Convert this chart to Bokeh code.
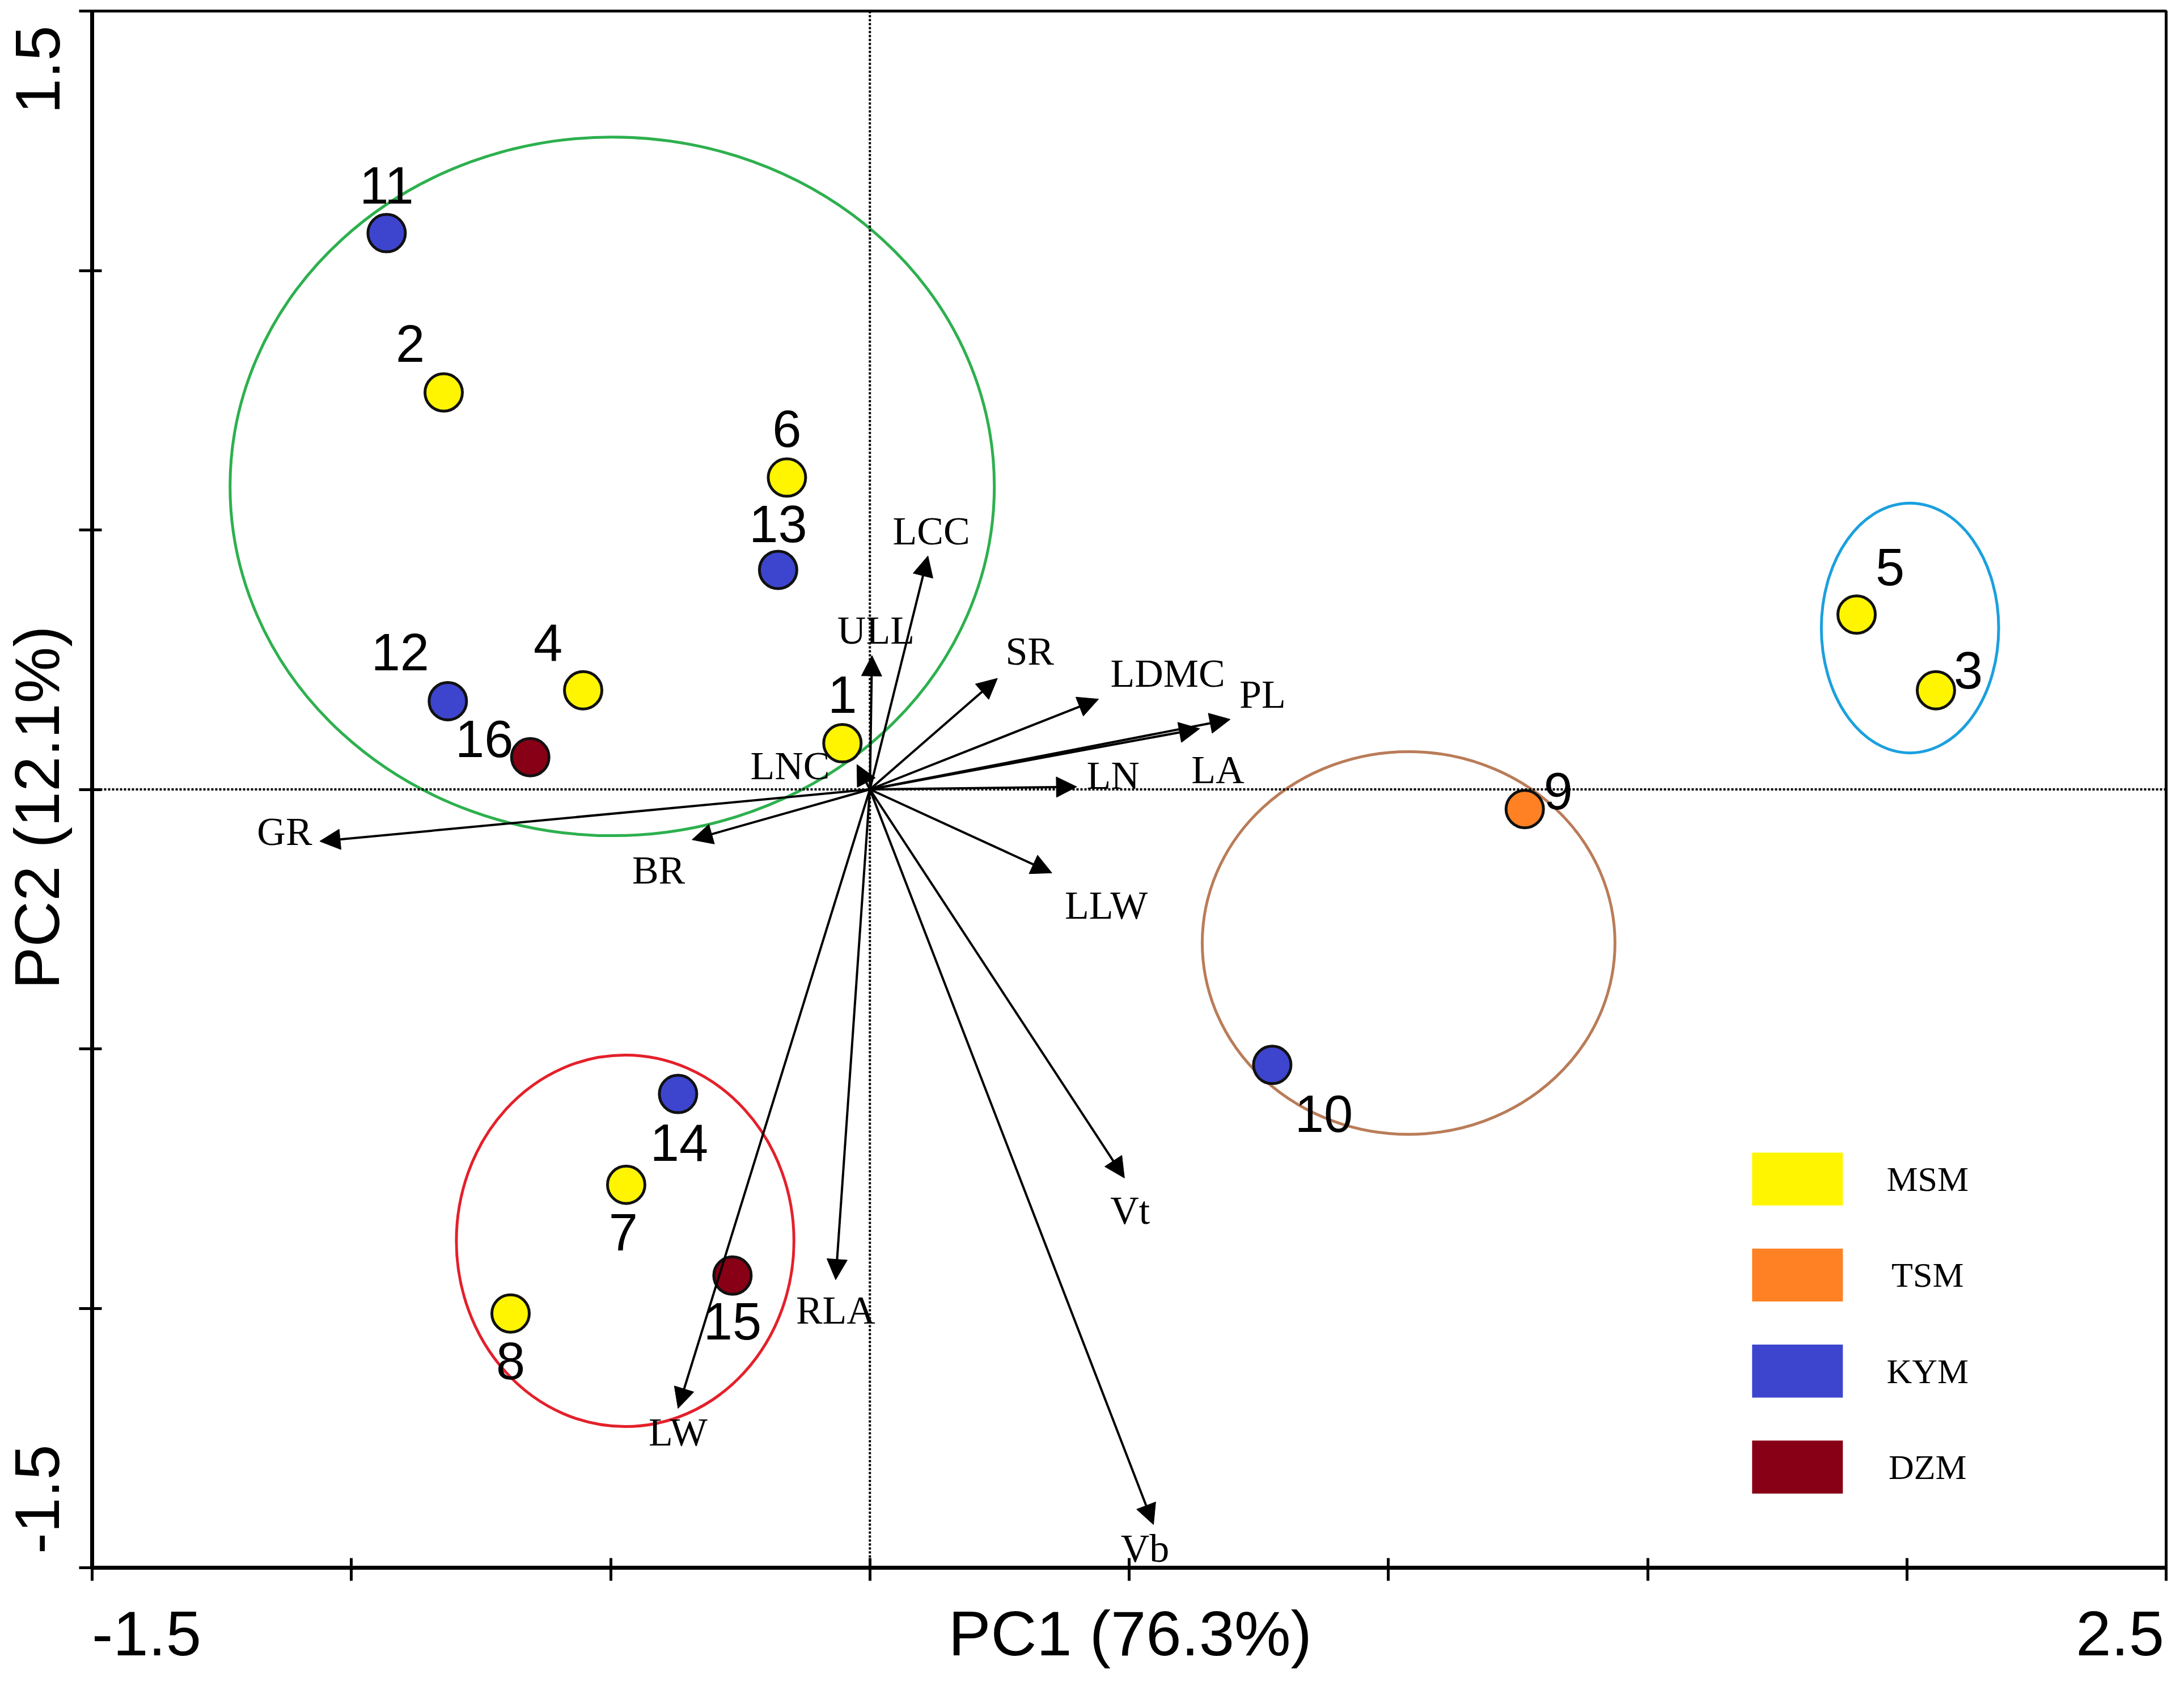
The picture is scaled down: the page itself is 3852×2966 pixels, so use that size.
import math
from bokeh.plotting import figure
from bokeh.models import (LinearAxis, FixedTicker, Arrow, NormalHead, Span, Range1d,
                          ColumnDataSource)
from bokeh.embed import file_html
from bokeh.resources import INLINE
from bokeh.core.properties import value

# ---------------- data ----------------
sample_ids = ["1", "2", "3", "4", "5", "6", "7", "8", "9", "10", "11", "12", "13", "14", "15", "16"]
pc1 = [-0.053, -0.822, 2.056, -0.553, 1.903, -0.160, -0.470, -0.693, 1.263, 0.776, -0.932, -0.814, -0.177, -0.370, -0.265, -0.655]
pc2 = [0.089, 0.765, 0.191, 0.191, 0.337, 0.601, -0.762, -1.010, -0.038, -0.531, 1.072, 0.170, 0.423, -0.587, -0.937, 0.062]
sample_group = ["MSM", "MSM", "MSM", "MSM", "MSM", "MSM", "MSM", "MSM", "TSM", "KYM", "KYM", "KYM", "KYM", "KYM", "DZM", "DZM"]

group_names = ["MSM", "TSM", "KYM", "DZM"]
group_colors = ["#FFF500", "#FF8124", "#3D45CE", "#870016"]

traits = ["GR", "BR", "LNC", "ULL", "LCC", "SR", "LDMC", "PL", "LA", "LN", "LLW", "Vt", "Vb", "RLA", "LW"]
load1 = [-1.061, -0.343, -0.025, 0.004, 0.112, 0.246, 0.441, 0.695, 0.636, 0.399, 0.351, 0.491, 0.547, -0.066, -0.370]
load2 = [-0.100, -0.097, 0.048, 0.258, 0.450, 0.214, 0.174, 0.135, 0.117, 0.005, -0.161, -0.749, -1.417, -0.945, -1.193]

# cluster ellipses (centre x, centre y, width, height) and colours
ell_cx = [-0.497, -0.472, 1.039, 2.006]
ell_cy = [0.584, -0.870, -0.296, 0.311]
ell_w = [1.474, 0.651, 0.796, 0.342]
ell_h = [1.347, 0.716, 0.738, 0.482]
ell_colors = ["#2DB04E", "#E4202A", "#B97C58", "#1BA0DE"]

x_major_ticks = [-1.5, -1.0, -0.5, 0.0, 0.5, 1.0, 1.5, 2.0, 2.5]
y_major_ticks = [-1.5, -1.0, -0.5, 0.0, 0.5, 1.0, 1.5]

# ---------------- styles / label offsets (screen px) ----------------
sample_dx = [0, -59, 57, -62, 59, 0, -5, 0, 59, 91, 0, -84, 0, 2, 0, -81]
sample_dy = [-86, -86, -35, -84, -84, -86, 84, 84, -32, 86, -84, -86, -81, 86, 81, -32]
trait_dx = [-62, -59, -118, 7, 6, 57, 122, 57, 32, 64, 96, 10, -15, 0, 0]
trait_dy = [-17, 54, 2, -44, -44, -48, -45, -44, 73, -20, 57, 57, 42, 54, 42]

W, H = 3836, 2950
p = figure(width=W, height=H, x_range=Range1d(-1.5, 2.5), y_range=Range1d(-1.5, 1.5),
           output_backend="svg", toolbar_location=None,
           min_border_left=155, min_border_right=16, min_border_top=19, min_border_bottom=186)
p.grid.visible = False
p.outline_line_color = "black"
p.outline_line_width = 5
p.background_fill_color = "white"
p.border_fill_color = "white"

# main axes: tick marks only
for ax, ticks in ((p.xaxis[0], x_major_ticks), (p.yaxis[0], y_major_ticks)):
    ax.ticker = FixedTicker(ticks=ticks, minor_ticks=[])
    ax.major_label_overrides = {t: "" for t in ticks}
    ax.major_label_text_font_size = "0px"
    ax.major_label_standoff = 0
    ax.major_tick_in = 17
    ax.major_tick_out = 23
    ax.major_tick_line_width = 5
    ax.major_tick_line_color = "black"
    ax.axis_line_width = 7
    ax.axis_line_color = "black"
    ax.minor_tick_line_color = None

label_font = "Liberation Sans"
# label axes (text only)
x_lab_pos = [-1.395, 0.502, 2.411]
x_lab_txt = ["-1.5", "PC1 (76.3%)", "2.5"]
xl = LinearAxis(ticker=FixedTicker(ticks=x_lab_pos, minor_ticks=[]),
                major_label_overrides=dict(zip(x_lab_pos, x_lab_txt)),
                axis_line_color=None, major_tick_line_color=None, minor_tick_line_color=None,
                major_tick_in=0, major_tick_out=0, major_label_standoff=30,
                major_label_text_font_size="112px", major_label_text_font=label_font,
                major_label_text_color="black")
p.add_layout(xl, "below")

y_lab_pos = [1.387, -0.035, -1.368]
y_lab_txt = ["1.5", "PC2 (12.1%)", "-1.5"]
yl = LinearAxis(ticker=FixedTicker(ticks=y_lab_pos, minor_ticks=[]),
                major_label_overrides=dict(zip(y_lab_pos, y_lab_txt)),
                axis_line_color=None, major_tick_line_color=None, minor_tick_line_color=None,
                major_tick_in=0, major_tick_out=0, major_label_standoff=11,
                major_label_orientation="parallel",
                major_label_text_font_size="112px", major_label_text_font=label_font,
                major_label_text_color="black")
p.add_layout(yl, "left")

# dotted cross lines
p.add_layout(Span(location=0, dimension="height", line_color="black", line_width=4, line_dash="4 3"))
p.add_layout(Span(location=0, dimension="width", line_color="black", line_width=4, line_dash="4 3"))

# ellipses
p.ellipse(x=ell_cx, y=ell_cy, width=ell_w, height=ell_h, fill_color=None,
          line_color=ell_colors, line_width=5)

# loading arrows
asrc = ColumnDataSource(dict(x0=[0.0] * len(traits), y0=[0.0] * len(traits), x1=load1, y1=load2))
p.add_layout(Arrow(source=asrc, x_start="x0", y_start="y0", x_end="x1", y_end="y1",
                   line_color="black", line_width=4,
                   end=NormalHead(size=36, fill_color="black", line_color="black", line_width=1)))
tsrc = ColumnDataSource(dict(x=load1, y=load2, t=traits, dx=trait_dx, dy=trait_dy))
p.text(x="x", y="y", text="t", x_offset="dx", y_offset="dy", source=tsrc,
       text_font=value("Liberation Serif"), text_font_size="70px", text_color="black",
       text_align="center", text_baseline="middle")

# samples
color_map = dict(zip(group_names, group_colors))
ssrc = ColumnDataSource(dict(x=pc1, y=pc2, id=sample_ids, dx=sample_dx, dy=sample_dy,
                             c=[color_map[g] for g in sample_group]))
p.scatter(x="x", y="y", source=ssrc, size=66, fill_color="c", line_color="#111111", line_width=5)
p.text(x="x", y="y", text="id", x_offset="dx", y_offset="dy", source=ssrc,
       text_font=value(label_font), text_font_size="92px", text_color="black",
       text_align="center", text_baseline="middle")

# legend
leg_x = 1.789
leg_y = [-0.751 - 0.185 * i for i in range(len(group_names))]
p.rect(x=[leg_x] * len(group_names), y=leg_y, width=0.175, height=0.102,
       fill_color=group_colors, line_color=None)
p.text(x=[2.040] * len(group_names), y=leg_y, text=group_names,
       text_font=value("Liberation Serif"), text_font_size="62px", text_color="black",
       text_align="center", text_baseline="middle")

open("out.html", "w").write(file_html(p, INLINE))
